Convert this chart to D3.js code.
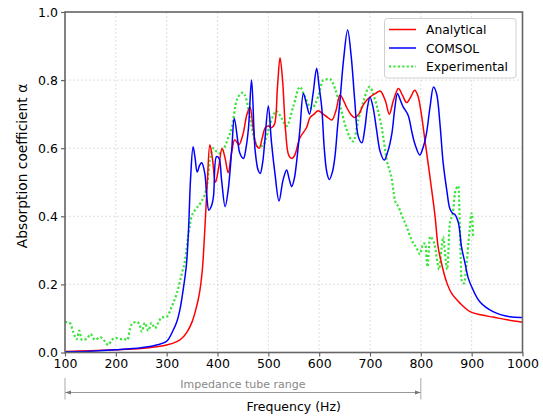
<!DOCTYPE html>
<html><head><meta charset="utf-8">
<script src="https://cdn.jsdelivr.net/npm/d3@7"></script>
<style>body{margin:0;background:#fff}svg{display:block;font-family:"DejaVu Sans",sans-serif}</style>
</head><body><svg id="c" width="543" height="416"></svg>
<script>
const xTicks = [100,200,300,400,500,600,700,800,900,1000];
const yTicks = [0.0,0.2,0.4,0.6,0.8,1.0];
const seriesNames = ["Analytical","COMSOL","Experimental"];

const analyticalFreq = [100,150,200,250,280,300,320,330,340,350,358,364,370,375,380,385,390,396,402,409,415,421,428,434,442,450,458,464,470,476,482,488,494,500,506,512,518,523,528,534,540,546,552,562,575,582,590,598,608,617,625,633,641,648,654,662,670,678,686,693,700,710,720,730,738,746,756,764,772,780,788,794,800,808,818,828,834,841,850,860,877,897,920,942,970,1000];
const analyticalAlpha = [0.003,0.005,0.008,0.012,0.017,0.022,0.032,0.042,0.06,0.09,0.13,0.17,0.24,0.36,0.50,0.61,0.57,0.50,0.54,0.60,0.57,0.528,0.59,0.625,0.61,0.64,0.70,0.72,0.66,0.61,0.60,0.63,0.66,0.665,0.66,0.67,0.78,0.866,0.80,0.65,0.58,0.57,0.58,0.63,0.66,0.69,0.70,0.71,0.70,0.69,0.683,0.71,0.756,0.74,0.72,0.70,0.69,0.70,0.725,0.74,0.75,0.76,0.768,0.74,0.70,0.74,0.775,0.755,0.734,0.75,0.77,0.755,0.71,0.624,0.515,0.40,0.31,0.26,0.21,0.175,0.145,0.12,0.11,0.104,0.096,0.089];

const comsolFreq = [100,150,200,250,280,300,313,320,326,334,339,343,347,352,356,360,365,369,375,379,383,388,392,398,403,408,415,421,428,433,440,444,451,456,461,467,474,480,484,489,493,500,506,513,521,529,536,541,546,551,556,562,569,575,581,588,595,600,605,610,615,620,626,631,636,641,648,656,663,670,677,684,690,695,700,706,713,720,728,735,743,749,754,760,765,775,782,788,798,804,811,818,825,831,838,844,851,857,862,867,874,880,887,893,900,916,942,975,1000];
const comsolAlpha = [0.002,0.004,0.008,0.014,0.022,0.033,0.066,0.09,0.125,0.2,0.26,0.36,0.51,0.604,0.57,0.53,0.55,0.557,0.526,0.457,0.418,0.43,0.457,0.575,0.57,0.507,0.428,0.477,0.595,0.688,0.62,0.585,0.57,0.60,0.66,0.80,0.594,0.535,0.526,0.56,0.62,0.724,0.62,0.526,0.445,0.507,0.536,0.51,0.487,0.51,0.565,0.653,0.761,0.73,0.70,0.76,0.835,0.78,0.72,0.60,0.53,0.508,0.53,0.575,0.66,0.74,0.86,0.947,0.87,0.74,0.634,0.616,0.66,0.72,0.75,0.72,0.653,0.59,0.565,0.59,0.643,0.72,0.761,0.74,0.722,0.697,0.65,0.614,0.58,0.60,0.643,0.72,0.78,0.76,0.665,0.556,0.477,0.423,0.41,0.405,0.38,0.31,0.262,0.22,0.193,0.149,0.12,0.105,0.103];

const experimentalFreq = [100,110,116,123,128,133,143,150,159,169,179,185,192,200,208,215,223,228,234,242,248,251,257,264,270,277,283,290,300,310,320,330,336,343,349,357,366,379,385,392,398,404,411,421,428,438,450,457,465,474,480,490,500,506,516,526,536,549,562,572,585,598,608,621,631,641,654,667,677,687,699,710,723,733,743,749,756,762,772,782,792,798,805,809,813,818,822,828,831,836,841,844,847,852,857,863,867,871,874,877,880,885,890,896,900,903];
const experimentalAlpha = [0.09,0.086,0.061,0.039,0.064,0.037,0.04,0.054,0.037,0.045,0.032,0.022,0.037,0.043,0.039,0.04,0.037,0.071,0.087,0.09,0.076,0.061,0.087,0.064,0.087,0.071,0.086,0.103,0.105,0.135,0.174,0.233,0.27,0.35,0.399,0.42,0.438,0.487,0.565,0.60,0.59,0.585,0.595,0.63,0.66,0.742,0.763,0.742,0.68,0.619,0.604,0.609,0.653,0.683,0.709,0.688,0.665,0.722,0.78,0.751,0.717,0.751,0.80,0.803,0.776,0.725,0.655,0.62,0.683,0.737,0.78,0.742,0.66,0.565,0.507,0.448,0.428,0.405,0.37,0.33,0.306,0.289,0.32,0.32,0.252,0.34,0.335,0.31,0.281,0.244,0.31,0.34,0.30,0.244,0.38,0.409,0.467,0.485,0.489,0.36,0.213,0.203,0.262,0.36,0.409,0.34];

const rangeStart = 100, rangeEnd = 800;

const svg = d3.select("#c");
const L = 65, R = 522.5, T = 12, B = 352.5;
const x = d3.scaleLinear().domain([100,1000]).range([L,R]);
const y = d3.scaleLinear().domain([0,1]).range([B,T]);

// grid
const g = svg.append("g");
g.selectAll(".vg").data(xTicks).join("line")
  .attr("x1",d=>x(d)).attr("x2",d=>x(d)).attr("y1",T).attr("y2",B)
  .attr("stroke","#d6d6d6").attr("stroke-width",0.8).attr("stroke-dasharray","2,2");
g.selectAll(".hg").data(yTicks).join("line")
  .attr("y1",d=>y(d)).attr("y2",d=>y(d)).attr("x1",L).attr("x2",R)
  .attr("stroke","#d6d6d6").attr("stroke-width",0.8).attr("stroke-dasharray","2,2");

// lines
const clipId = "pc";
svg.append("clipPath").attr("id",clipId).append("rect").attr("x",L).attr("y",T).attr("width",R-L).attr("height",B-T);
const mk = (fs, as) => fs.map((f,i)=>[f, as[i]]);
const smooth = d3.line().x(d=>x(d[0])).y(d=>y(d[1])).curve(d3.curveCatmullRom.alpha(0.5));
const lin = d3.line().x(d=>x(d[0])).y(d=>y(d[1])).curve(d3.curveMonotoneX);
const pg = svg.append("g").attr("clip-path",`url(#${clipId})`);
pg.append("path").attr("d",lin(mk(experimentalFreq,experimentalAlpha))).attr("fill","none")
  .attr("stroke","#3be33b").attr("stroke-width",2.2).attr("stroke-dasharray","2.2,2.2");
pg.append("path").attr("d",smooth(mk(analyticalFreq,analyticalAlpha))).attr("fill","none")
  .attr("stroke","#ff0000").attr("stroke-width",1.5);
pg.append("path").attr("d",smooth(mk(comsolFreq,comsolAlpha))).attr("fill","none")
  .attr("stroke","#0000ff").attr("stroke-width",1.5);

// axes
const spine = "#666";
const xa = svg.append("g").attr("transform",`translate(0,${B})`)
  .call(d3.axisBottom(x).tickValues(xTicks).tickFormat(d3.format("d")).tickSize(4).tickPadding(3));
const ya = svg.append("g").attr("transform",`translate(${L},0)`)
  .call(d3.axisLeft(y).tickValues(yTicks).tickFormat(d3.format(".1f")).tickSize(4).tickPadding(3));
[xa,ya].forEach(a=>{
  a.select(".domain").remove();
  a.selectAll("line").attr("stroke",spine).attr("stroke-width",1.2);
  a.selectAll("text").attr("font-size",12.5).attr("fill","#000").attr("font-family","DejaVu Sans");
});
svg.append("rect").attr("x",L).attr("y",T).attr("width",R-L).attr("height",B-T)
  .attr("fill","none").attr("stroke",spine).attr("stroke-width",1.6);

// labels
svg.append("text").attr("x",(L+R)/2).attr("y",411).attr("text-anchor","middle")
  .attr("font-size",12.5).text("Frequency (Hz)");
svg.append("text").attr("transform",`translate(27,166) rotate(-90)`).attr("text-anchor","middle")
  .attr("font-size",13.8).text("Absorption coefficient α");

// impedance tube range annotation
const ac = "#999";
const defs = svg.append("defs");
defs.append("marker").attr("id","ah").attr("viewBox","0 0 10 10").attr("refX",10).attr("refY",5)
  .attr("markerWidth",6).attr("markerHeight",6).attr("orient","auto-start-reverse")
  .append("path").attr("d","M0,1.5 L10,5 L0,8.5 Z").attr("fill","#777");
svg.append("line").attr("x1",x(rangeStart)).attr("x2",x(rangeEnd)).attr("y1",392.5).attr("y2",392.5)
  .attr("stroke",ac).attr("stroke-width",1).attr("marker-start","url(#ah)").attr("marker-end","url(#ah)");
[rangeStart,rangeEnd].forEach(v=>svg.append("line").attr("x1",x(v)).attr("x2",x(v)).attr("y1",378).attr("y2",399.5)
  .attr("stroke","#aaa").attr("stroke-width",1));
svg.append("text").attr("x",(x(rangeStart)+x(rangeEnd))/2).attr("y",388).attr("text-anchor","middle")
  .attr("font-size",11).attr("fill","#888").text("Impedance tube range");

// legend
const lg = svg.append("g");
lg.append("rect").attr("x",384.5).attr("y",18.5).attr("width",131.5).attr("height",59.5).attr("rx",3)
  .attr("fill","#fff").attr("fill-opacity",0.85).attr("stroke","#d0d0d0").attr("stroke-width",1);
const legStyle = [
  {c:"#ff0000",w:1.5,d:null},
  {c:"#0000ff",w:1.5,d:null},
  {c:"#3be33b",w:2.2,d:"2.2,2.2"}
];
seriesNames.forEach((n,i)=>{
  const yy = 29.5 + i*18.5;
  const ln = lg.append("line").attr("x1",389).attr("x2",416).attr("y1",yy).attr("y2",yy)
    .attr("stroke",legStyle[i].c).attr("stroke-width",legStyle[i].w);
  if (legStyle[i].d) ln.attr("stroke-dasharray",legStyle[i].d);
  lg.append("text").attr("x",426).attr("y",yy+4.5).attr("font-size",12.3).text(n);
});
</script></body></html>
